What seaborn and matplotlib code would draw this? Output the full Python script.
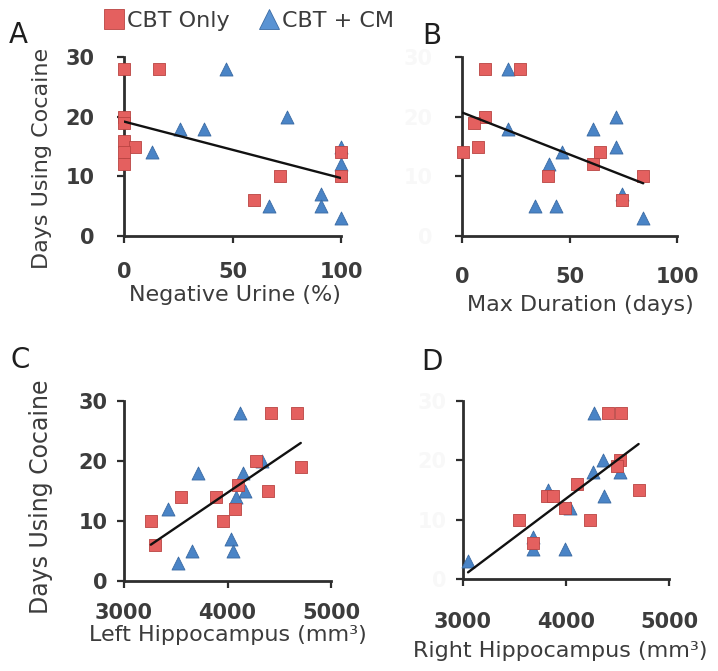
import numpy as np
import pandas as pd
import matplotlib
matplotlib.use("Agg")
import matplotlib.pyplot as plt
from matplotlib.lines import Line2D
import seaborn as sns

# ---------------- data ----------------
# Panel A: Negative urine (%)
a_cbt_x = [0, 16, 0, 0, 0, 5, 0, 0, 72, 60, 100, 100]
a_cbt_y = [28, 28, 20, 19, 16, 15, 14, 12, 10, 6, 14, 10]
a_cm_x = [47, 26, 37, 75, 13, 67, 91, 91, 100, 100, 100]
a_cm_y = [28, 18, 18, 20, 14, 5, 7, 5, 3, 15, 12]

# Panel B: Max duration (days)
b_cbt_x = [10.6, 27, 10.6, 5.4, 7.5, 0.3, 40, 64, 61, 74.4, 84]
b_cbt_y = [28, 28, 20, 19, 15, 14, 10, 14, 12, 6, 10]
b_cm_x = [21.5, 21.5, 40.4, 46.7, 34, 43.5, 61, 71.5, 71.5, 84.3, 74.4]
b_cm_y = [28, 18, 12, 14, 5, 5, 18, 20, 15, 3, 7]

# Panel C: Left hippocampus (mm3)
c_cbt_x = [4420, 4669, 4280, 4708, 4394, 3551, 3891, 4070, 3956, 3259, 3301, 4102]
c_cbt_y = [28, 28, 20, 19, 15, 14, 14, 12, 10, 10, 6, 16]
c_cm_x = [4125, 3713, 4151, 3421, 4037, 4053, 3658, 3519, 4086, 4167, 4329]
c_cm_y = [28, 18, 18, 12, 7, 5, 5, 3, 14, 15, 20]

# Panel D: Right hippocampus (mm3)
d_cbt_x = [4403, 4532, 4526, 4494, 4705, 4104, 3812, 3877, 3990, 4234, 3545, 3675]
d_cbt_y = [28, 28, 20, 19, 15, 16, 14, 14, 12, 10, 10, 6]
d_cm_x = [4273, 4364, 4260, 4526, 3828, 4370, 4039, 3680, 3675, 3990, 3049]
d_cm_y = [28, 20, 18, 18, 15, 14, 12, 7, 5, 5, 3]

group_labels = ["CBT Only", "CBT + CM"]
x_labels = ["Negative Urine (%)", "Max Duration (days)",
            "Left Hippocampus (mm\u00b3)", "Right Hippocampus (mm\u00b3)"]
y_label = "Days Using Cocaine"
panel_letters = ["A", "B", "C", "D"]
y_ticks = [0, 10, 20, 30]
x_ticks_pct = [0, 50, 100]
x_ticks_vol = [3000, 4000, 5000]

# ---------------- style ----------------
sns.set_style("ticks")
plt.rcParams["font.family"] = ["DejaVu Sans"]

RED_FACE, RED_EDGE = "#E4605F", "#B94442"
BLUE_FACE, BLUE_EDGE = "#4A84C6", "#3A6AA3"
SPINE = "#2e2e2e"
TEXT = "#3c3c3c"

W, H = 718, 671
fig = plt.figure(figsize=(W / 100, H / 100), dpi=100)

def px_rect(l, r, b, t):
    return [l / W, 1 - b / H, (r - l) / W, (b - t) / H]

axA = fig.add_axes(px_rect(124, 341, 236, 57))
axB = fig.add_axes(px_rect(462, 677, 236, 57))
axC = fig.add_axes(px_rect(124, 331, 581, 401))
axD = fig.add_axes(px_rect(463, 669, 579, 401))

panels = [
    (axA, a_cbt_x, a_cbt_y, a_cm_x, a_cm_y, (0, 100), x_ticks_pct),
    (axB, b_cbt_x, b_cbt_y, b_cm_x, b_cm_y, (0, 100), x_ticks_pct),
    (axC, c_cbt_x, c_cbt_y, c_cm_x, c_cm_y, (3000, 5000), x_ticks_vol),
    (axD, d_cbt_x, d_cbt_y, d_cm_x, d_cm_y, (3000, 5000), x_ticks_vol),
]

# per-panel label tweaks
tweaks = {
    0: dict(xpad=14, ypad=16, xl=(0.51, -0.275), yl=(-0.33, 0.436), ylfs=16),
    1: dict(xpad=17, ypad=16, xl=(0.549, -0.33), yl=None, ylfs=16),
    2: dict(xpad=11, ypad=7, xl=(0.50, -0.245), yl=(-0.345, 0.467), ylfs=17),
    3: dict(xpad=19, ypad=7, xl=(0.47, -0.35), yl=None, ylfs=16),
}

for i, (ax, rx, ry, bx, by, xlim, xt) in enumerate(panels):
    sns.scatterplot(x=bx, y=by, ax=ax, marker="^", s=88, color=BLUE_FACE,
                    edgecolor=BLUE_EDGE, linewidth=0.6, clip_on=False,
                    zorder=3, legend=False)
    sns.scatterplot(x=rx, y=ry, ax=ax, marker="s", s=70, color=RED_FACE,
                    edgecolor=RED_EDGE, linewidth=0.6, clip_on=False,
                    zorder=3, legend=False)
    sns.regplot(x=np.array(rx + bx, dtype=float), y=np.array(ry + by, dtype=float),
                ax=ax, scatter=False, ci=None, truncate=True,
                line_kws=dict(color="#111111", lw=1.7, zorder=4))
    ax.set_xlim(*xlim)
    ax.set_ylim(0, 30)
    ax.set_xticks(xt)
    ax.set_yticks(y_ticks)
    sns.despine(ax=ax)
    for side in ("left", "bottom"):
        ax.spines[side].set_linewidth(2.0)
        ax.spines[side].set_color(SPINE)
    tw = tweaks[i]
    ax.tick_params(axis="both", direction="out", length=5, width=1.6,
                   color=SPINE, labelsize=15, labelcolor=TEXT)
    ax.tick_params(axis="x", pad=tw["xpad"])
    ax.tick_params(axis="y", pad=tw["ypad"])
    for lab in ax.get_xticklabels() + ax.get_yticklabels():
        lab.set_fontweight("bold")
    ax.set_xlabel(x_labels[i], fontsize=16, color=TEXT)
    ax.xaxis.set_label_coords(*tw["xl"])
    if tw["yl"] is not None:
        ax.set_ylabel(y_label, fontsize=tw["ylfs"], color=TEXT)
        ax.yaxis.set_label_coords(*tw["yl"])
    else:
        ax.set_ylabel("")
        for lab in ax.get_yticklabels():
            lab.set_color("#f8f8f8")

# panel letters
for letter, (px, py) in zip(panel_letters, [(18, 35), (432, 36), (20, 360), (432, 362)]):
    fig.text(px / W, 1 - py / H, letter, fontsize=20, color="#1e1e1e",
             ha="center", va="center")

# legend
handles = [
    Line2D([], [], linestyle="none", marker="s", markersize=14,
           markerfacecolor=RED_FACE, markeredgecolor=RED_EDGE, markeredgewidth=0.6),
    Line2D([], [], linestyle="none", marker="^", markersize=15,
           markerfacecolor="#5A93D3", markeredgecolor=BLUE_EDGE, markeredgewidth=0.6),
]
fig.legend(handles, group_labels, loc="center", bbox_to_anchor=(249 / W, 1 - 21 / H),
           ncol=2, frameon=False, fontsize=16, handlelength=0.9,
           handletextpad=0.15, columnspacing=1.3, borderaxespad=0,
           labelcolor=TEXT)

fig.savefig("out.png", dpi=100)
